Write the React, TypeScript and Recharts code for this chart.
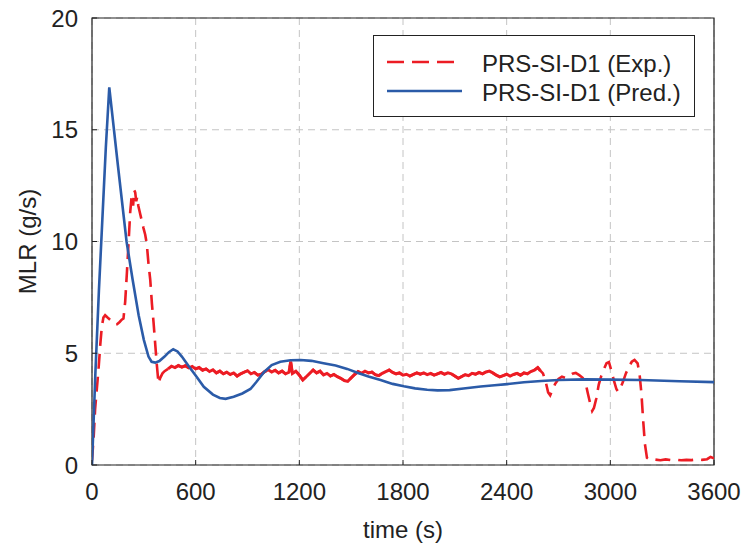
import { LineChart, Line, XAxis, YAxis, CartesianGrid, ReferenceArea, Legend } from 'recharts';

const FONT = '"Liberation Sans", Arial, Helvetica, sans-serif';
const RED = '#ec1c24';
const BLUE = '#2b5ba8';
const INK = '#222222';

const xTicks = [0, 600, 1200, 1800, 2400, 3000, 3600];
const yTicks = [0, 5, 10, 15, 20];

// model prediction [time s, MLR g/s]
const predCurve: [number, number][] = [
  [0, 0], [20, 4.2], [40, 7.8], [60, 11.0], [80, 14.2], [100, 16.9],
  [150, 13.4], [200, 10.0], [235, 8.3], [270, 6.7], [300, 5.6], [327, 4.85],
  [345, 4.62], [366, 4.58], [390, 4.65], [420, 4.85], [445, 5.05], [470, 5.18],
  [495, 5.08], [520, 4.85], [560, 4.42], [600, 4.0], [647, 3.5], [700, 3.15],
  [740, 3.0], [773, 2.96], [820, 3.05], [870, 3.2], [917, 3.4], [950, 3.7],
  [995, 4.15], [1040, 4.47], [1090, 4.62], [1149, 4.69], [1207, 4.7], [1270, 4.66],
  [1340, 4.55], [1410, 4.45], [1477, 4.3], [1540, 4.12], [1600, 3.96], [1670, 3.8],
  [1740, 3.63], [1805, 3.52], [1870, 3.43], [1940, 3.37], [2000, 3.34], [2070, 3.35],
  [2150, 3.42], [2250, 3.51], [2330, 3.57], [2403, 3.62], [2500, 3.7], [2600, 3.76],
  [2700, 3.8], [2850, 3.83], [3000, 3.82], [3175, 3.8], [3400, 3.75], [3600, 3.71],
];

// experiment: ignition, peak and first drop
const expRise: [number, number][] = [
  [0, 0.2], [10, 1.3], [18, 2.5], [28, 3.4], [38, 4.3], [48, 5.4], [57, 6.2],
  [66, 6.6], [76, 6.7], [90, 6.6], [105, 6.5], [120, 6.45], [135, 6.3], [145, 6.3],
  [160, 6.4], [172, 6.5], [182, 6.55], [192, 7.3], [202, 8.6], [212, 10.0],
  [221, 11.3], [228, 11.9], [234, 12.1], [238, 11.6], [244, 12.3], [250, 12.2],
  [256, 11.8], [262, 12.0], [268, 11.6], [274, 11.4], [280, 11.2], [289, 10.9],
  [298, 10.6], [308, 10.3], [317, 9.9], [327, 9.0], [337, 8.3], [347, 7.2],
  [356, 6.4], [366, 5.4], [375, 4.5], [385, 3.65], [395, 3.9], [408, 4.1],
  [420, 4.2], [440, 4.3],
];

// experiment: steady burning
const expPlateau: [number, number][] = [
  [440, 4.3], [460, 4.42], [480, 4.36], [500, 4.45], [520, 4.38], [540, 4.44],
  [560, 4.35], [580, 4.41], [600, 4.3], [620, 4.36], [640, 4.24], [660, 4.3],
  [680, 4.18], [700, 4.26], [720, 4.12], [740, 4.2], [760, 4.08], [780, 4.15],
  [800, 4.05], [820, 4.12], [840, 3.98], [860, 4.08], [880, 4.15], [900, 4.22],
  [920, 4.08], [940, 4.14], [960, 4.02], [980, 4.06], [1000, 4.18], [1020, 4.26],
  [1040, 4.16], [1060, 4.24], [1080, 4.12], [1100, 4.2], [1120, 4.08], [1140, 4.15],
  [1150, 4.62], [1160, 4.1], [1180, 4.2], [1200, 4.02], [1220, 3.8], [1240, 3.95],
  [1260, 4.1], [1280, 4.25], [1300, 4.12], [1320, 4.2], [1340, 4.03], [1360, 4.1],
  [1380, 3.98], [1400, 4.05], [1420, 3.95], [1440, 3.88], [1460, 3.78], [1480, 3.74],
  [1500, 3.9], [1520, 4.05], [1540, 4.18], [1560, 4.1], [1580, 4.2], [1600, 4.12],
  [1620, 4.16], [1640, 4.04], [1660, 4.0], [1680, 4.1], [1700, 4.18], [1720, 4.25],
  [1740, 4.14], [1760, 4.08], [1780, 4.12], [1800, 4.02], [1820, 4.06], [1840, 3.98],
  [1860, 4.05], [1880, 4.12], [1900, 4.06], [1920, 4.12], [1940, 4.04], [1960, 4.1],
  [1980, 4.02], [2000, 4.08], [2020, 4.14], [2040, 4.06], [2060, 4.12], [2080, 4.08],
  [2100, 3.98], [2120, 3.88], [2140, 3.96], [2160, 4.04], [2180, 4.0], [2200, 4.1],
  [2220, 4.06], [2240, 4.14], [2260, 4.08], [2280, 4.16], [2300, 4.2], [2320, 4.12],
  [2340, 4.02], [2360, 3.94], [2380, 4.0], [2400, 4.06], [2420, 3.98], [2440, 4.05],
  [2460, 4.1], [2480, 4.02], [2500, 4.12], [2520, 4.08], [2540, 4.18], [2560, 4.24],
  [2580, 4.36], [2595, 4.22],
];

// experiment: late oscillations, extinction, tail
const expLate: [number, number][] = [
  [2595, 4.22], [2610, 4.1], [2625, 3.75], [2640, 3.25], [2652, 3.12], [2665, 3.35],
  [2680, 3.62], [2700, 3.85], [2720, 3.95], [2740, 3.9], [2760, 3.98], [2780, 4.08],
  [2800, 4.12], [2820, 4.02], [2840, 3.9], [2856, 3.7], [2870, 3.2], [2885, 2.7],
  [2895, 2.42], [2905, 2.55], [2918, 2.95], [2933, 3.6], [2948, 4.0], [2962, 4.28],
  [2978, 4.55], [2992, 4.6], [3005, 4.25], [3020, 3.8], [3035, 3.4], [3045, 3.28],
  [3058, 3.45], [3072, 3.7], [3090, 4.1], [3108, 4.4], [3124, 4.62], [3140, 4.7],
  [3158, 4.55], [3170, 4.0], [3180, 3.2], [3190, 2.0], [3200, 0.95], [3212, 0.32],
  [3230, 0.22], [3260, 0.24], [3290, 0.21], [3320, 0.25], [3350, 0.22], [3380, 0.24],
  [3410, 0.21], [3440, 0.23], [3470, 0.22], [3500, 0.25], [3530, 0.23], [3560, 0.26],
  [3580, 0.36], [3600, 0.3],
];

const toRows = (pts: [number, number][]) => pts.map(([t, v]) => ({ t, v }));
const predData = toRows(predCurve);
const expData = toRows([...expRise, ...expPlateau.slice(1), ...expLate.slice(1)]);
const plateauData = toRows(expPlateau);

const XTick = (props: any) => {
  const { x, y, payload } = props;
  return (
    <g>
      <line x1={x} y1={y} x2={x} y2={y - 5} stroke={INK} strokeWidth={1} />
      <text x={x} y={y + 35} textAnchor="middle" fontSize={24} fontFamily={FONT} fill={INK}>
        {payload.value}
      </text>
    </g>
  );
};

const YTick = (props: any) => {
  const { x, y, payload } = props;
  return (
    <g>
      <line x1={x} y1={y} x2={x + 5} y2={y} stroke={INK} strokeWidth={1} />
      <text x={x - 14} y={y} dy="0.36em" textAnchor="end" fontSize={24} fontFamily={FONT} fill={INK}>
        {payload.value}
      </text>
    </g>
  );
};

const renderLegend = () => (
  <div style={{ width: 322, height: 82, boxSizing: 'border-box', border: `1px solid ${INK}`, background: '#fff' }}>
    <svg width={320} height={80} style={{ display: 'block' }}>
      <line x1={13} y1={26} x2={88} y2={26} stroke={RED} strokeWidth={2.6} strokeDasharray="17 8" />
      <line x1={13} y1={55} x2={88} y2={55} stroke={BLUE} strokeWidth={2.6} />
      <text x={108} y={36} fontSize={24} fontFamily={FONT} fill={INK}>PRS-SI-D1 (Exp.)</text>
      <text x={108} y={65} fontSize={24} fontFamily={FONT} fill={INK}>PRS-SI-D1 (Pred.)</text>
    </svg>
  </div>
);

export default function App() {
  return (
    <div style={{ width: 744, height: 554, background: '#fff' }}>
      <style>{'body{margin:0;}'}</style>
      <LineChart width={744} height={554} margin={{ top: 18, right: 30, bottom: 0, left: 0 }}>
        <CartesianGrid stroke="#c4c4c4" strokeDasharray="7 5" />
        <XAxis
          dataKey="t" type="number" domain={[0, 3600]} ticks={xTicks} height={89}
          axisLine={false} tickLine={false} tickSize={0} tickMargin={0} tick={<XTick />}
          allowDataOverflow
          label={{ value: 'time (s)', position: 'insideBottom', offset: 16, fontSize: 24, fontFamily: FONT, fill: INK }}
        />
        <YAxis
          type="number" domain={[0, 20]} ticks={yTicks} width={92}
          axisLine={false} tickLine={false} tickSize={0} tickMargin={0} tick={<YTick />}
          allowDataOverflow
          label={{
            content: (p: any) => {
              const vb = p.viewBox || { y: 18, height: 447 };
              const cy = vb.y + vb.height / 2;
              return (
                <text x={36} y={cy} transform={`rotate(-90 36 ${cy})`} textAnchor="middle"
                  fontSize={24} fontFamily={FONT} fill={INK}>MLR (g/s)</text>
              );
            },
          }}
        />
        <ReferenceArea x1={0} x2={3600} y1={0} y2={20} fill="none" stroke={INK} strokeWidth={1.2} />
        <Line data={expData} dataKey="v" type="linear" stroke={RED} strokeWidth={2.6}
          strokeDasharray="15 8" dot={false} isAnimationActive={false} />
        <Line data={plateauData} dataKey="v" type="linear" stroke={RED} strokeWidth={3}
          dot={false} isAnimationActive={false} legendType="none" />
        <Line data={predData} dataKey="v" type="linear" stroke={BLUE} strokeWidth={2.6}
          dot={false} isAnimationActive={false} />
        <Legend content={renderLegend} layout="vertical" align="center" verticalAlign="middle"
          wrapperStyle={{ left: 373, top: 35, width: 322, height: 82 }} />
      </LineChart>
    </div>
  );
}
